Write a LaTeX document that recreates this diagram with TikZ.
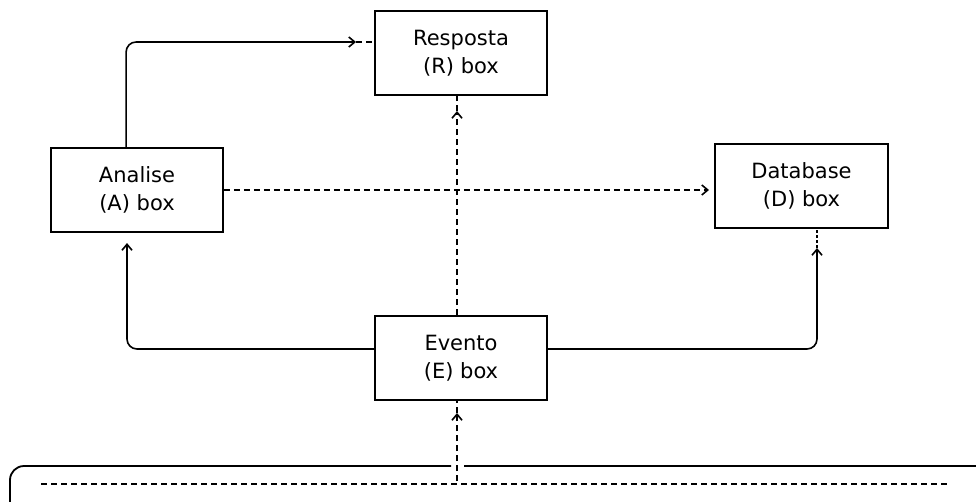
\documentclass[tikz,border=0pt]{standalone}
\usepackage{fontspec}
\setmainfont{DejaVu Sans}
\usetikzlibrary{arrows.meta,calc}
\begin{document}
\begin{tikzpicture}[x=1pt,y=-1pt,
  box/.style={draw=black,line width=1.8pt,minimum width=172pt,minimum height=84pt,
    align=center,inner sep=0pt,font=\fontsize{21}{28}\selectfont,text=black},
  conn/.style={draw=black,line width=1.6pt},
  dashline/.style={draw=black,line width=1.6pt,dash pattern=on 6pt off 4pt},
  tip/.style={-{Straight Barb[length=6pt,width=10pt]}}
]
\useasboundingbox (0,0) rectangle (976,501);
\fill[white] (0,0) rectangle (976,501);

% boxes
\node[box] (R) at (461,53) {Resposta\\(R) box};
\node[box] (A) at (137,190) {Analise\\(A) box};
\node[box,minimum width=173pt] (D) at (801.5,186) {Database\\(D) box};
\node[box] (E) at (461,358) {Evento\\(E) box};

% arrow tip coordinates
\coordinate (tAR) at (356,42);
\coordinate (tAD) at (709,190);
\coordinate (tER) at (457,111);
\coordinate (tEA) at (127,243);
\coordinate (tED) at (817,248);
\coordinate (tBE) at (457,413);
\coordinate (bB) at (457,481);

% A -> R
\draw[conn,tip,rounded corners=10pt] ($(A.north west)+(76,0)$) |- (tAR);
\draw[dashline] (tAR) -- (R.west |- tAR);

% A -> D
\draw[dashline,tip] (A.east) -- (tAD);

% E -> R
\draw[dashline,tip] (E.north -| tER) -- (tER);
\draw[dashline] (tER) -- (R.south -| tER);

% E -> A
\draw[conn,tip,rounded corners=10pt] ($(E.west)+(0,-9)$) -| (tEA);

% E -> D
\draw[conn,tip,rounded corners=10pt] ($(E.east)+(0,-9)$) -| (tED);
\draw[dashline,dash pattern=on 3pt off 2pt] (tED) -- (D.south -| tED);

% bottom bar
\begin{scope}
\clip (0,0) rectangle (976,501);
\draw[conn,line width=1.8pt,rounded corners=14pt] (451,466) -- (10,466) -- (10,530);
\draw[conn,line width=1.8pt,rounded corners=14pt] (464,466) -- (990,466) -- (990,530);
\draw[dashline] (41,484) -- (948,484);
\end{scope}

% bar -> E
\draw[dashline,tip] (bB) -- (tBE);
\draw[dashline] (tBE) -- (E.south -| tBE);
\end{tikzpicture}
\end{document}
